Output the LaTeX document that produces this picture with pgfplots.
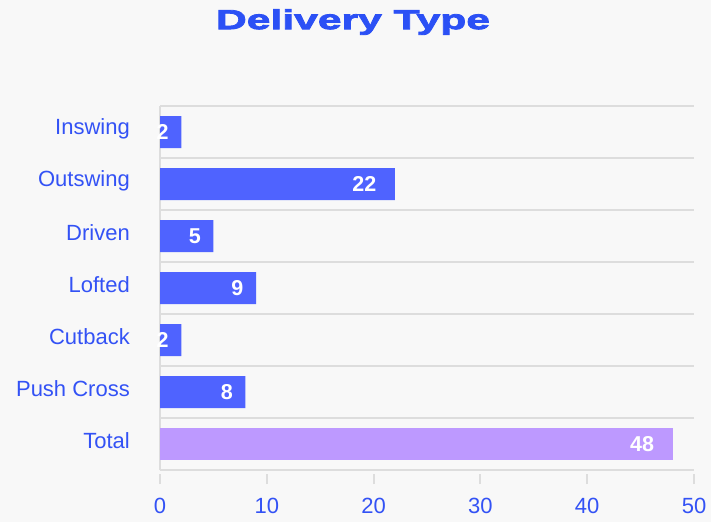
\documentclass[border=0pt]{standalone}
\usepackage{pgfplots}
\pgfplotsset{compat=1.18}
\usepackage{graphicx}
\usepackage{fontspec}
\setmainfont{Liberation Sans}
\newfontfamily\titlefont[FakeStretch=1.55,FakeBold=3]{Liberation Sans Bold}
\definecolor{bg}{HTML}{F8F8F8}
\definecolor{txtblue}{HTML}{3352F5}
\definecolor{titleblue}{HTML}{2B50F5}
\definecolor{barblue}{HTML}{4F63FF}
\definecolor{barpurple}{HTML}{BD99FF}
\definecolor{gridgray}{HTML}{DDDDDD}
\begin{document}
\begin{tikzpicture}[x=1pt,y=1pt]
\fill[bg] (0,0) rectangle (711,522);
\useasboundingbox (0,0) rectangle (711,522);
\node[text=titleblue, font=\titlefont\fontsize{27.5}{30}\selectfont] at (353,500) {Delivery Type};
\begin{axis}[
  at={(160pt,52pt)}, anchor=south west,
  scale only axis, width=534pt, height=364pt,
  xmin=0, xmax=50, ymin=-0.5, ymax=6.5,
  xbar, bar width=32pt, bar shift=0pt,
  axis line style={draw=none},
  xtick={0,10,...,50},
  xtick pos=lower,
  ytick={0,...,6},
  yticklabels={Total,Push Cross,Cutback,Lofted,Driven,Outswing,Inswing},
  minor ytick={-0.5,0.5,...,6.5},
  ymajorgrids=false, yminorgrids=true,
  minor grid style={draw=gridgray, line width=1.5pt},
  major tick length=10pt, minor tick length=0pt,
  ytick style={draw=none},
  xtick style={draw=gridgray, line width=2pt, yshift=-4pt},
  tick align=outside,
  /pgf/number format/assume math mode=true,
  ticklabel style={text=txtblue, font=\fontsize{22}{24}\selectfont},
  yticklabel style={anchor=east, inner sep=0pt, xshift=-20pt, yshift=3pt},
  xticklabel style={anchor=north, inner sep=0pt, yshift=-18pt},
  point meta=x,
  nodes near coords={\bfseries\pgfmathprintnumber{\pgfplotspointmeta}\phantom{\scalebox{0.5}[1]{\bfseries\pgfmathprintnumber{\pgfplotspointmeta}}}},
  nodes near coords style={anchor=east, text=white, inner sep=0pt, xshift=-6.5pt, font=\fontsize{21.5}{24}\selectfont},
  clip=false,
]
\draw[gridgray, line width=1.5pt] (axis cs:0,-0.5) -- (axis cs:0,6.5);
\addplot[fill=barblue, draw=none] coordinates {(2,6) (22,5) (5,4) (9,3) (2,2) (8,1)};
\addplot[fill=barpurple, draw=none] coordinates {(48,0)};
\end{axis}
\end{tikzpicture}
\end{document}
